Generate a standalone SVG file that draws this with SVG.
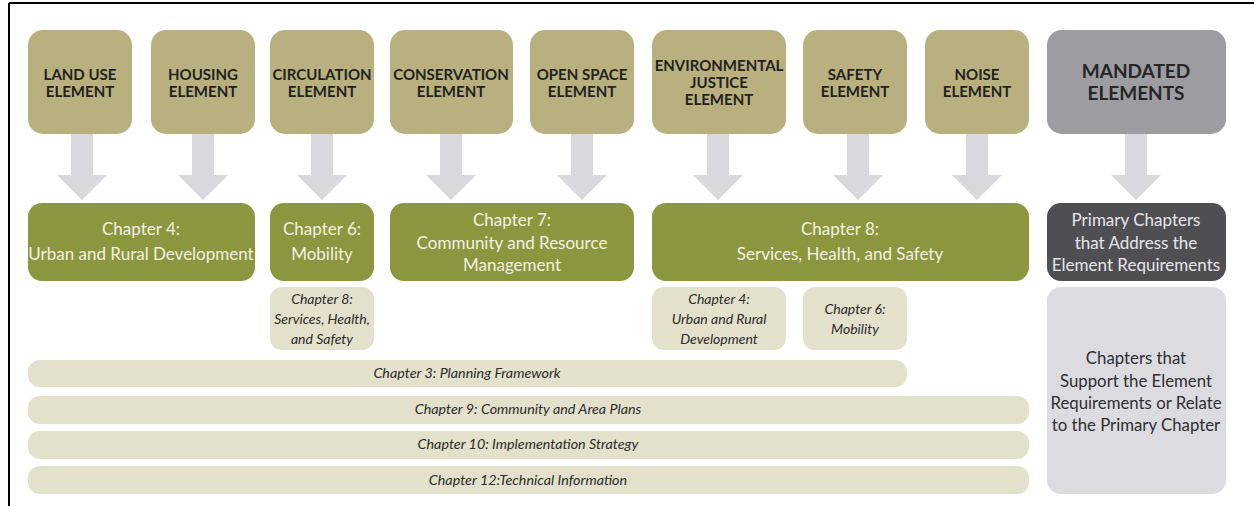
<svg xmlns="http://www.w3.org/2000/svg" width="1254" height="506" viewBox="0 0 1254 506">
<defs>
<style>
.el{fill:#b8b17f}
.man{fill:#9d9ca1}
.ch{fill:#8b963f}
.pri{fill:#4e4e53}
.sub{fill:#e3e0cb}
.sup{fill:#dcdce0}
.arrow{fill:#d9d9dd}
.et{font-family:Lato,"Liberation Sans",sans-serif;font-weight:bold;font-size:15px;fill:#232220;text-anchor:middle}
.mt{font-family:Lato,"Liberation Sans",sans-serif;font-weight:bold;font-size:19px;fill:#262626;text-anchor:middle}
.ct{font-family:Lato,"Liberation Sans",sans-serif;font-size:17px;fill:#f3f1e2;text-anchor:middle}
.pt{font-family:Lato,"Liberation Sans",sans-serif;font-size:17px;fill:#e6e6e8;text-anchor:middle}
.st{font-family:Lato,"Liberation Sans",sans-serif;font-style:italic;font-size:14px;fill:#2c2c2a;text-anchor:middle}
.bt{font-family:Lato,"Liberation Sans",sans-serif;font-style:italic;font-size:14.3px;fill:#2c2c2a;text-anchor:middle}
.gt{font-family:Lato,"Liberation Sans",sans-serif;font-size:16.8px;fill:#2e2e30;text-anchor:middle}
</style>
<path id="arr" d="M-11,0 H11 V41 H25 L0,66 L-25,41 H-11 Z"/>
</defs>
<rect x="0" y="0" width="1254" height="506" fill="#ffffff"/>
<path d="M9,3 H1254 M9,3 V506" stroke="#000" stroke-width="2" fill="none"/>

<g id="connectors" class="arrow">
<use href="#arr" x="82" y="134"/>
<use href="#arr" x="203" y="134"/>
<use href="#arr" x="322" y="134"/>
<use href="#arr" x="451" y="134"/>
<use href="#arr" x="582" y="134"/>
<use href="#arr" x="718" y="134"/>
<use href="#arr" x="858" y="134"/>
<use href="#arr" x="977" y="134"/>
<use href="#arr" x="1136" y="134"/>
</g>

<g id="land-use"><rect class="el" x="28" y="30" width="104" height="104" rx="15"/><text class="et" x="80" y="80">LAND USE</text><text class="et" x="80" y="97">ELEMENT</text></g>
<g id="housing"><rect class="el" x="151" y="30" width="104" height="104" rx="15"/><text class="et" x="203" y="80">HOUSING</text><text class="et" x="203" y="97">ELEMENT</text></g>
<g id="circulation"><rect class="el" x="270" y="30" width="104" height="104" rx="15"/><text class="et" x="322" y="80">CIRCULATION</text><text class="et" x="322" y="97">ELEMENT</text></g>
<g id="conservation"><rect class="el" x="390" y="30" width="123" height="104" rx="15"/><text class="et" x="451" y="80">CONSERVATION</text><text class="et" x="451" y="97">ELEMENT</text></g>
<g id="open-space"><rect class="el" x="530" y="30" width="104" height="104" rx="15"/><text class="et" x="582" y="80">OPEN SPACE</text><text class="et" x="582" y="97">ELEMENT</text></g>
<g id="env-justice"><rect class="el" x="652" y="30" width="134" height="104" rx="15"/><text class="et" x="719" y="71">ENVIRONMENTAL</text><text class="et" x="719" y="88">JUSTICE</text><text class="et" x="719" y="105">ELEMENT</text></g>
<g id="safety"><rect class="el" x="803" y="30" width="104" height="104" rx="15"/><text class="et" x="855" y="80">SAFETY</text><text class="et" x="855" y="97">ELEMENT</text></g>
<g id="noise"><rect class="el" x="925" y="30" width="104" height="104" rx="15"/><text class="et" x="977" y="80">NOISE</text><text class="et" x="977" y="97">ELEMENT</text></g>
<g id="mandated"><rect class="man" x="1047" y="30" width="179" height="104" rx="15"/><text class="mt" x="1136" y="78">MANDATED</text><text class="mt" x="1136" y="100">ELEMENTS</text></g>

<g id="ch4"><rect class="ch" x="28" y="203" width="227" height="78" rx="14"/><text class="ct" x="141" y="235">Chapter 4:</text><text class="ct" x="141" y="260">Urban and Rural Development</text></g>
<g id="ch6"><rect class="ch" x="270" y="203" width="104" height="78" rx="14"/><text class="ct" x="322" y="235">Chapter 6:</text><text class="ct" x="322" y="260">Mobility</text></g>
<g id="ch7"><rect class="ch" x="390" y="203" width="244" height="78" rx="14"/><text class="ct" x="512" y="226">Chapter 7:</text><text class="ct" x="512" y="249">Community and Resource</text><text class="ct" x="512" y="271">Management</text></g>
<g id="ch8"><rect class="ch" x="652" y="203" width="377" height="78" rx="14"/><text class="ct" x="840" y="235">Chapter 8:</text><text class="ct" x="840" y="260">Services, Health, and Safety</text></g>
<g id="primary"><rect class="pri" x="1047" y="203" width="179" height="78" rx="14"/><text class="pt" x="1136" y="226">Primary Chapters</text><text class="pt" x="1136" y="249">that Address the</text><text class="pt" x="1136" y="271">Element Requirements</text></g>

<g id="sub-ch8"><rect class="sub" x="270" y="287" width="104" height="63" rx="12"/><text class="st" x="322" y="304">Chapter 8:</text><text class="st" x="322" y="324">Services, Health,</text><text class="st" x="322" y="344">and Safety</text></g>
<g id="sub-ch4"><rect class="sub" x="652" y="287" width="134" height="63" rx="12"/><text class="st" x="719" y="304">Chapter 4:</text><text class="st" x="719" y="324">Urban and Rural</text><text class="st" x="719" y="344">Development</text></g>
<g id="sub-ch6"><rect class="sub" x="803" y="287" width="104" height="63" rx="12"/><text class="st" x="855" y="314">Chapter 6:</text><text class="st" x="855" y="334">Mobility</text></g>

<g id="ch3"><rect class="sub" x="28" y="360" width="879" height="27" rx="12"/><text class="bt" x="467" y="378">Chapter 3: Planning Framework</text></g>
<g id="ch9"><rect class="sub" x="28" y="396" width="1001" height="28" rx="12"/><text class="bt" x="528" y="414">Chapter 9: Community and Area Plans</text></g>
<g id="ch10"><rect class="sub" x="28" y="431" width="1001" height="28" rx="12"/><text class="bt" x="528" y="449">Chapter 10: Implementation Strategy</text></g>
<g id="ch12"><rect class="sub" x="28" y="466" width="1001" height="28" rx="12"/><text class="bt" x="528" y="485">Chapter 12:Technical Information</text></g>

<g id="support"><rect class="sup" x="1047" y="287" width="179" height="207" rx="14"/><text class="gt" x="1136" y="364">Chapters that</text><text class="gt" x="1136" y="387">Support the Element</text><text class="gt" x="1136" y="409">Requirements or Relate</text><text class="gt" x="1136" y="431">to the Primary Chapter</text></g>
</svg>
